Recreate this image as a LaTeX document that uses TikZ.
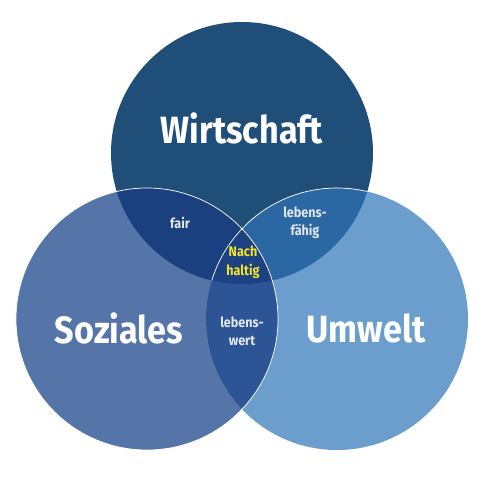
\documentclass[tikz,border=0pt]{standalone}
\usepackage{fontspec}
\setmainfont{Fira Sans}
\definecolor{cTop}{RGB}{31,78,121}
\definecolor{cLeft}{RGB}{85,117,168}
\definecolor{cRight}{RGB}{107,158,205}
\definecolor{cTL}{RGB}{27,64,128}
\definecolor{cTR}{RGB}{43,103,163}
\definecolor{cLR}{RGB}{45,85,150}
\definecolor{cMid}{RGB}{28,66,130}
\definecolor{cSmall}{RGB}{226,230,238}
\definecolor{cYellow}{RGB}{246,226,40}
\newcommand{\narrow}[1]{\scalebox{0.9}[1]{#1}}
\begin{document}
\begin{tikzpicture}[x=1pt,y=-1pt,
  bigtext/.style={text=white,font=\bfseries\fontsize{38}{42}\selectfont,inner sep=0pt},
  smalltext/.style={text=cSmall,font=\bfseries\fontsize{14}{18}\selectfont,align=center,inner sep=0pt},
  midtext/.style={text=cYellow,font=\bfseries\fontsize{14}{19}\selectfont,align=center,inner sep=0pt},
  rim/.style={draw=white,line width=0.7pt}]
\useasboundingbox[fill=white] (0,0) rectangle (480,480);
\coordinate (T) at (242,153);
\coordinate (L) at (147,319);
\coordinate (R) at (337,319);
\def\rad{131}
% circles
\fill[cTop] (T) circle[radius=\rad];
\fill[cLeft] (L) circle[radius=\rad];
\fill[cRight] (R) circle[radius=\rad];
% pairwise overlaps
\begin{scope}
  \clip (T) circle[radius=\rad];
  \fill[cTL] (L) circle[radius=\rad];
  \fill[cTR] (R) circle[radius=\rad];
\end{scope}
\begin{scope}
  \clip (L) circle[radius=\rad];
  \fill[cLR] (R) circle[radius=\rad];
  \clip (T) circle[radius=\rad];
  \fill[cMid] (R) circle[radius=\rad];
\end{scope}
% white rims
\draw[rim] (L) circle[radius=\rad];
\begin{scope}
  \clip (T) circle[radius=\rad];
  \draw[rim] (R) circle[radius=\rad];
\end{scope}
% labels
\node[bigtext] (wirt) at (242,128) {\narrow{Wirtschaft}};
\node[bigtext] (soz) at (119,328) {\narrow{Soziales}};
\node[bigtext] (umw) at (366,328) {\narrow{Umwelt}};
\node[smalltext] (fair) at (180,223) {\narrow{fair}};
\node[smalltext] (lfae) at (305,223) {\narrow{lebens-}\\\narrow{fähig}};
\node[smalltext] (lwert) at (242,331) {\narrow{lebens-}\\\narrow{wert}};
\node[midtext] (nach) at (243,262) {\narrow{Nach}\\\narrow{haltig}};
\end{tikzpicture}
\end{document}
